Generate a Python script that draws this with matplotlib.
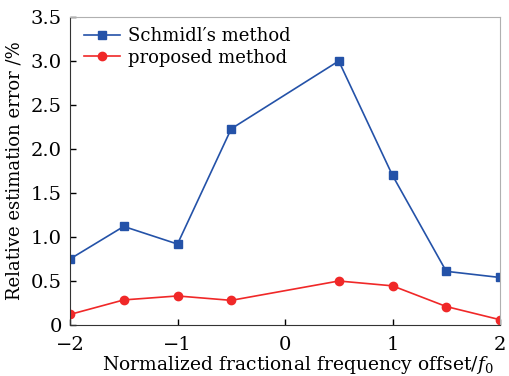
import numpy as np
import matplotlib
matplotlib.use("Agg")
import matplotlib.pyplot as plt

offset = [-2, -1.5, -1, -0.5, 0.5, 1, 1.5, 2]
schmidl = [0.75, 1.12, 0.92, 2.23, 3.00, 1.70, 0.61, 0.54]
proposed = [0.12, 0.285, 0.33, 0.28, 0.50, 0.445, 0.21, 0.06]

plt.rcParams['font.family'] = ['DejaVu Serif']
plt.rcParams['mathtext.fontset'] = 'dejavuserif'

fig = plt.figure(figsize=(5.09, 3.76), dpi=100)
ax = fig.add_axes([70 / 509, 1 - 325 / 376, 430 / 509, 308 / 376])

ax.plot(offset, schmidl, color='#2452a8', marker='s', markersize=5.5,
        linewidth=1.2, label="Schmidl\u2032s method")
ax.plot(offset, proposed, color='#f02828', marker='o', markersize=6,
        linewidth=1.2, label='proposed method')

ax.set_xlim(-2, 2)
ax.set_ylim(0, 3.5)
ax.set_xticks([-2, -1, 0, 1, 2])
ax.set_xticklabels(['\u22122', '\u22121', '0', '1', '2'])
ax.set_yticks([0, 0.5, 1.0, 1.5, 2.0, 2.5, 3.0, 3.5])
ax.set_yticklabels(['0', '0.5', '1.0', '1.5', '2.0', '2.5', '3.0', '3.5'])
ax.tick_params(direction='in', labelsize=14, length=4, width=1)
ax.tick_params(axis='x', pad=8)
ax.tick_params(axis='y', pad=6)

for side in ['top', 'right']:
    ax.spines[side].set_color('#b0b0b0')
for side in ['left', 'bottom']:
    ax.spines[side].set_color('#333333')

ax.set_xlabel('Normalized fractional frequency offset/$f_0$', fontsize=13.5, labelpad=0)
ax.xaxis.set_label_coords(0.53, -0.095)
ax.set_ylabel('Relative estimation error /%', fontsize=13, labelpad=5)

ax.legend(loc='upper left', frameon=False, fontsize=13, handlelength=2.0,
          borderaxespad=0.15, labelspacing=0.2, handletextpad=0.4,
          bbox_to_anchor=(0.01, 1.0))

fig.savefig('out.png', dpi=100)
